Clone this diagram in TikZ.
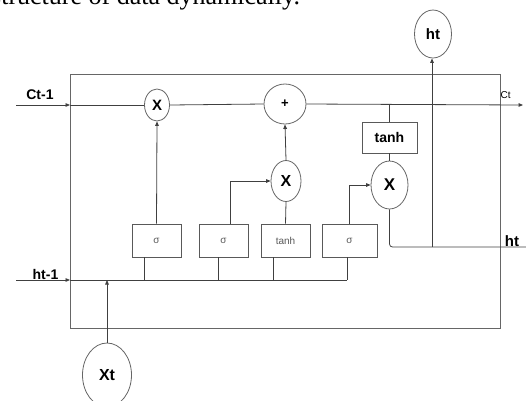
\documentclass[tikz,border=0pt]{standalone}
\usepackage{fontspec}
\setmainfont{Liberation Sans}
\newfontfamily\seriffont{Liberation Serif}
\usetikzlibrary{shapes.geometric,arrows.meta}
\begin{document}
\begin{tikzpicture}[x=1pt,y=-1pt,
  ln/.style={draw=black!75,line width=0.8pt},
  arr/.style={ln,-{Triangle[length=4.5pt,width=3.6pt]}},
  opnode/.style={ellipse,draw=black!60,line width=0.8pt,fill=white,inner sep=0pt,font=\bfseries\fontsize{15}{15}\selectfont},
  gatebox/.style={rectangle,draw=black!65,line width=0.8pt,fill=white,inner sep=0pt,minimum height=33pt,text=black!65,font=\fontsize{10}{10}\selectfont},
  lbl/.style={inner sep=0pt,font=\bfseries\fontsize{14}{14}\selectfont}]
\useasboundingbox (0,0) rectangle (526,400);
% top text
\node[anchor=base west,inner sep=0pt,font=\seriffont\fontsize{26}{26}\selectfont] (toptext) at (-9,4) {structure of data dynamically.};
% outer box
\node[draw=black!60,line width=0.8pt,rectangle,minimum width=430pt,minimum height=253.7pt,inner sep=0pt,anchor=north west] (cell) at (70,74) {};
% nodes
\node[opnode,minimum width=37pt,minimum height=48pt] (ht) at (433,34) {ht};
\node[opnode,minimum width=25pt,minimum height=32pt] (X1) at (157,105) {X};
\node[opnode,minimum width=42pt,minimum height=40pt,font=\bfseries\fontsize{13}{13}\selectfont] (plus) at (285,104) {+};
\node[rectangle,draw=black!65,line width=0.8pt,fill=white,inner sep=0pt,minimum width=55pt,minimum height=31pt,font=\bfseries\fontsize{14}{14}\selectfont] (tanhB) at (389.5,137.5) {tanh};
\node[opnode,minimum width=37pt,minimum height=48pt,font=\bfseries\fontsize{17}{17}\selectfont] (X2) at (389.5,185) {X};
\node[opnode,minimum width=30pt,minimum height=41pt,font=\bfseries\fontsize{16}{16}\selectfont] (Xm) at (286,181) {X};
\node[gatebox,minimum width=49pt] (s1) at (156.5,240.5) {σ};
\node[gatebox,minimum width=49pt] (s2) at (223.5,240.5) {σ};
\node[gatebox,minimum width=49pt] (tsm) at (285.5,240.5) {tanh};
\node[gatebox,minimum width=55pt] (s3) at (349.5,240.5) {σ};
\node[opnode,minimum width=49pt,minimum height=64pt,font=\bfseries\fontsize{16}{16}\selectfont] (Xt) at (107,375) {Xt};
% coordinates
\coordinate (cin) at (16,105);
\coordinate (cbox) at (70,105);
\coordinate (cout) at (523,105);
\coordinate (ctap) at (389.5,105);
\coordinate (hin) at (16,280);
\coordinate (hbox) at (70,280);
\coordinate (hend) at (347,280);
\coordinate (hx) at (107,280);
\coordinate (htj) at (432,247);
\coordinate (htout) at (531,247);
% cell state line
\draw[arr] (cin) -- (cbox);
\draw[ln] (cbox) -- (X1.west);
\draw[ln] (X1.east) -- (plus.west);
\draw[arr] (plus.east) -- (cout);
\draw[ln] (ctap) -- (tanhB.north);
\draw[ln] (tanhB.south) -- (X2.north);
% gates up
\draw[arr] (s1.north) -- (X1.south);
\draw[arr] ([xshift=6.5pt]s2.north) |- (Xm.west);
\draw[ln] (tsm.north) -- (Xm.south);
\draw[arr] (Xm.north) -- (plus.south);
\draw[arr] (s3.north) |- (X2.west);
% output
\draw[ln,rounded corners=3pt] (X2.south) |- (htout);
\draw[arr] (htj) -- (htj |- ht.south);
% hidden input line
\draw[arr] (hin) -- (hbox);
\draw[ln] (hbox) -- (hend);
\draw[ln] ([xshift=-12.5pt]s1.south) -- ([xshift=-12.5pt]s1.south |- hend);
\draw[ln] ([xshift=-5.5pt]s2.south) -- ([xshift=-5.5pt]s2.south |- hend);
\draw[ln] ([xshift=-12.5pt]tsm.south) -- ([xshift=-12.5pt]tsm.south |- hend);
\draw[ln] ([xshift=-2.5pt]s3.south) -- (hend);
\draw[arr] (Xt.north) -- (hx);
% labels
\node[lbl,anchor=base] (lct1) at (40,99) {Ct-1};
\node[lbl,anchor=base] (lht1) at (45.5,279) {ht-1};
\node[lbl,anchor=base,font=\bfseries\fontsize{15}{15}\selectfont] (lht) at (512,246) {ht};
\node[anchor=base west,inner sep=0pt,font=\fontsize{10}{10}\selectfont] (lct) at (500.5,98) {Ct};
\end{tikzpicture}
\end{document}
